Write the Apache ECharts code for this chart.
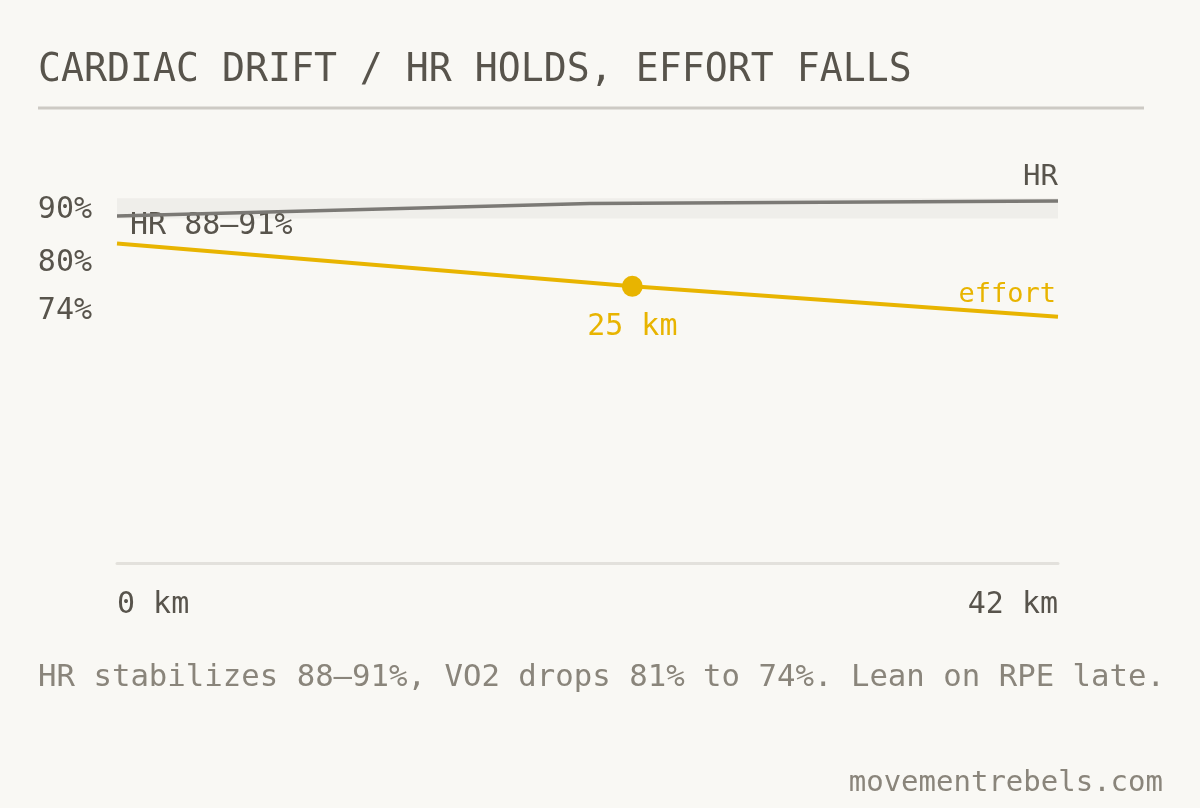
<!DOCTYPE html>
<html>
<head>
<meta charset="utf-8">
<script src="https://cdn.jsdelivr.net/npm/echarts@6/dist/echarts.min.js"></script>
<style>
  html, body { margin: 0; padding: 0; background: #f9f8f4; }
  #chart { width: 1200px; height: 808px; }
</style>
</head>
<body>
<div id="chart"></div>
<script>
// data
var hrKm = [0, 21.1, 42];
var hrPct = [88.4, 90.2, 90.6];
var effortKm = [0, 23, 42];
var effortPct = [81, 76.9, 74];
var hrBand = [88, 91];
var hrTicks = [90];
var effortTicks = [80, 74];
var kmTicks = [0, 42];
var markIndex = 1;
var markText = '25 km';

var MONO = 'DejaVu Sans Mono';
var INK = '#58544c';
var MUTED = '#8a857b';
var GOLD = '#e8b400';
var GREY = '#7b7975';

var chart = echarts.init(document.getElementById('chart'));

function pairs(xs, ys) {
    return xs.map(function(x, i) { return [x, ys[i]]; });
}

// effort points, only the marked one gets a dot
var effortData = pairs(effortKm, effortPct).map(function(p, i) {
    if (i !== markIndex) return { value: p, symbol: 'none' };
    return {
        value: p,
        symbol: 'circle',
        symbolSize: 21,
        label: {
            show: true,
            formatter: markText,
            position: [10.5, 51.5],
            align: 'center',
            verticalAlign: 'middle',
            color: GOLD,
            fontFamily: MONO,
            fontSize: 30
        }
    };
});

var option = {
    backgroundColor: '#f9f8f4',
    animation: false,
    title: [{
        text: 'CARDIAC DRIFT / HR HOLDS, EFFORT FALLS',
        left: 38,
        top: 52,
        padding: 0,
        textStyle: { fontFamily: MONO, fontSize: 38.2, fontWeight: 'normal', color: INK }
    }, {
        text: 'HR stabilizes 88–91%, VO2 drops 81% to 74%. Lean on RPE late.',
        left: 38,
        top: 663,
        padding: 0,
        textStyle: { fontFamily: MONO, fontSize: 30.7, fontWeight: 'normal', color: MUTED }
    }, {
        text: 'movementrebels.com',
        right: 37,
        top: 769,
        padding: 0,
        textStyle: { fontFamily: MONO, fontSize: 29, fontWeight: 'normal', color: MUTED }
    }],
    graphic: [{
        type: 'rect',
        shape: { x: 38, y: 106.5, width: 1106, height: 3 },
        style: { fill: '#cdcac4' },
        silent: true
    }],
    grid: { left: 117, right: 142, top: 147, bottom: 245 },
    xAxis: {
        type: 'value',
        min: 0,
        max: 42,
        axisLine: { show: true, lineStyle: { color: '#e3e1dc', width: 3 } },
        axisTick: { show: false },
        splitLine: { show: false },
        axisLabel: {
            customValues: kmTicks,
            formatter: '{value} km',
            margin: 27,
            alignMinLabel: 'left',
            alignMaxLabel: 'right',
            color: INK,
            fontFamily: MONO,
            fontSize: 30
        }
    },
    yAxis: [{
        // HR scale
        type: 'value',
        min: 37.5,
        max: 98.5,
        position: 'left',
        axisLine: { show: false },
        axisTick: { show: false },
        splitLine: { show: false },
        axisLabel: {
            customValues: hrTicks,
            margin: 25,
            formatter: function(v) { return '{d1|' + v + '%}'; },
            color: INK,
            fontFamily: MONO,
            fontSize: 30,
            rich: {
                d1: { padding: [11, 0, 0, 0], color: INK, fontFamily: MONO, fontSize: 30 }
            }
        }
    }, {
        // effort scale
        type: 'value',
        min: 50.5,
        max: 90.2,
        position: 'left',
        offset: 0,
        axisLine: { show: false },
        axisTick: { show: false },
        splitLine: { show: false },
        axisLabel: {
            customValues: effortTicks,
            margin: 25,
            formatter: function(v) {
                return (v === 80 ? '{dn|' : '{up|') + v + '%}';
            },
            color: INK,
            fontFamily: MONO,
            fontSize: 30,
            rich: {
                dn: { padding: [18, 0, 0, 0], color: INK, fontFamily: MONO, fontSize: 30 },
                up: { padding: [0, 0, 11, 0], color: INK, fontFamily: MONO, fontSize: 30 }
            }
        }
    }],
    series: [{
        name: 'HR',
        type: 'line',
        yAxisIndex: 0,
        data: pairs(hrKm, hrPct),
        showSymbol: false,
        symbol: 'none',
        lineStyle: { color: GREY, width: 3.5 },
        z: 3,
        markArea: {
            silent: true,
            itemStyle: { color: '#efeeea' },
            label: {
                show: true,
                position: [13, 28],
                align: 'left',
                verticalAlign: 'middle',
                color: INK,
                fontFamily: MONO,
                fontSize: 30
            },
            data: [[
                { name: 'HR 88–91%', xAxis: kmTicks[0], yAxis: hrBand[0] },
                { xAxis: kmTicks[1], yAxis: hrBand[1] }
            ]]
        },
        markPoint: {
            silent: true,
            symbol: 'circle',
            symbolSize: 0,
            label: {
                show: true,
                formatter: 'HR',
                position: [0, -23],
                align: 'right',
                verticalAlign: 'middle',
                color: INK,
                fontFamily: MONO,
                fontSize: 29
            },
            data: [{ coord: [hrKm[hrKm.length - 1], hrPct[hrPct.length - 1]] }]
        }
    }, {
        name: 'effort',
        type: 'line',
        yAxisIndex: 1,
        data: effortData,
        itemStyle: { color: GOLD },
        lineStyle: { color: GOLD, width: 4 },
        z: 4,
        markPoint: {
            silent: true,
            symbol: 'circle',
            symbolSize: 0,
            label: {
                show: true,
                formatter: 'effort',
                position: [-2, -22],
                align: 'right',
                verticalAlign: 'middle',
                color: GOLD,
                fontFamily: MONO,
                fontSize: 27
            },
            data: [{ coord: [effortKm[effortKm.length - 1], effortPct[effortPct.length - 1]] }]
        }
    }]
};

chart.setOption(option);
</script>
</body>
</html>
